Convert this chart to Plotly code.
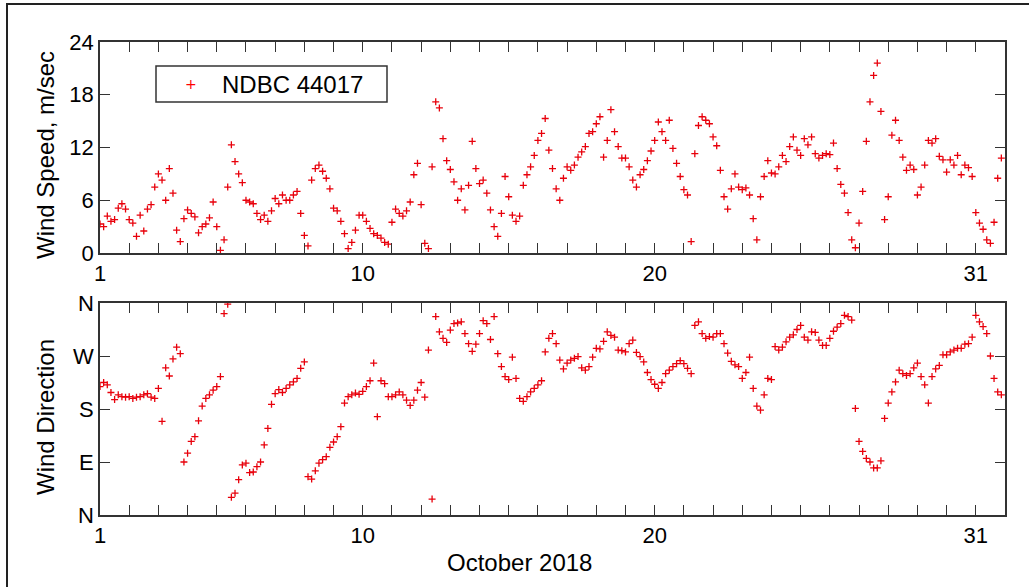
import numpy as np
import plotly.graph_objects as go

# ---- data: NDBC 44017, October 2018, 3-hourly readings (8 per day) ----
START_DAY = 1.0
STEP_DAYS = 0.125

wind_speed = [
    3.3, 3.0, 4.2, 3.6, 3.8, 5.1, 5.6, 5.0,
    3.8, 3.4, 1.9, 4.3, 2.5, 5.0, 5.5, 7.5,
    9.0, 8.3, 6.0, 9.6, 6.8, 2.6, 1.3, 3.9,
    4.9, 4.5, 4.1, 2.3, 3.0, 3.3, 4.0, 5.8,
    3.0, 0.3, 1.5, 7.5, 12.3, 10.4, 9.0, 8.0,
    6.0, 5.8, 5.6, 4.5, 3.8, 4.3, 3.6, 4.8,
    6.2, 5.6, 6.6, 6.0, 6.0, 6.6, 7.0, 4.5,
    2.0, 0.8, 8.3, 9.6, 10.0, 9.3, 8.5, 7.3,
    5.1, 4.8, 3.6, 2.2, 0.5, 1.2, 2.6, 4.3,
    4.3, 3.6, 2.8, 2.2, 2.0, 1.7, 1.2, 1.0,
    3.5, 5.0, 4.5, 4.2, 4.8, 5.8, 8.9, 10.2,
    5.5, 1.1, 0.5, 9.8, 17.2, 16.5, 13.0, 10.5,
    9.5, 8.1, 6.0, 7.3, 4.9, 7.7, 12.7, 9.6,
    7.9, 8.3, 6.8, 4.9, 3.0, 1.9, 4.5, 8.7,
    6.4, 4.3, 3.6, 4.2, 7.7, 8.9, 9.8, 11.1,
    12.8, 13.6, 15.3, 11.7, 9.6, 7.3, 6.0, 8.5,
    9.8, 9.4, 10.0, 10.9, 11.5, 12.1, 13.6, 13.8,
    14.7, 15.5, 10.9, 12.8, 16.3, 13.8, 12.1, 10.8,
    10.8, 9.8, 8.3, 7.5, 8.9, 9.5, 10.5, 11.6,
    12.8, 14.9, 13.8, 12.8, 15.1, 11.9, 10.2, 8.7,
    7.2, 6.6, 1.3, 11.3, 14.5, 15.5, 15.1, 14.7,
    13.2, 12.2, 9.4, 6.4, 5.0, 7.3, 9.0, 7.5,
    7.2, 7.4, 6.6, 3.9, 1.5, 6.4, 8.7, 10.5,
    9.1, 9.0, 9.8, 11.1, 10.4, 12.1, 13.2, 11.7,
    11.1, 13.0, 12.3, 13.2, 11.3, 10.8, 11.1, 11.3,
    11.2, 12.5, 9.6, 7.8, 6.8, 4.6, 1.5, 0.6,
    3.4, 7.0, 12.7, 17.2, 20.2, 21.6, 16.1, 3.8,
    6.4, 13.4, 15.1, 12.8, 10.9, 9.4, 10.0, 9.5,
    6.6, 7.5, 10.0, 12.8, 12.5, 13.0, 11.0, 10.6,
    9.2, 10.6, 10.0, 11.1, 8.9, 10.0, 9.7, 8.7,
    4.6, 3.4, 2.7, 1.5, 1.1, 3.5, 8.5, 10.8,
]

wind_dir = [
    218, 225, 221, 208, 196, 204, 201, 200,
    201, 198, 200, 201, 204, 206, 200, 198,
    215, 159, 250, 236, 265, 285, 274, 90,
    105, 125, 133, 160, 185, 198, 204, 212,
    218, 235, 342, 358, 30, 37, 60, 85,
    88, 72, 73, 82, 90, 119, 147, 188,
    206, 213, 208, 215, 221, 226, 232, 249,
    260, 65, 61, 75, 88, 94, 99, 115,
    124, 133, 150, 190, 201, 204, 207, 205,
    210, 218, 228, 258, 167, 228, 223, 201,
    201, 204, 209, 204, 195, 186, 195, 212,
    225, 200, 280, 27, 337, 311, 300, 293,
    314, 325, 326, 328, 308, 291, 278, 290,
    308, 330, 325, 298, 337, 274, 252, 235,
    230, 268, 232, 198, 193, 201, 209, 215,
    221, 228, 277, 300, 308, 291, 263, 248,
    258, 263, 266, 269, 250, 246, 252, 268,
    283, 282, 295, 311, 305, 302, 280, 279,
    277, 291, 297, 276, 269, 260, 242, 230,
    222, 215, 225, 240, 246, 252, 257, 262,
    257, 249, 240, 322, 328, 308, 300, 303,
    302, 308, 308, 291, 275, 261, 255, 252,
    232, 242, 268, 215, 185, 178, 204, 232,
    230, 286, 280, 285, 294, 302, 306, 315,
    322, 302, 297, 311, 310, 297, 288, 288,
    300, 312, 319, 325, 339, 337, 331, 181,
    125, 108, 96, 90, 80, 80, 92, 164,
    190, 209, 226, 246, 240, 237, 240, 250,
    258, 235, 221, 190, 235, 248, 254, 272,
    272, 277, 280, 283, 283, 290, 291, 302,
    339, 328, 320, 308, 270, 232, 209, 204,
]

series_name = "NDBC 44017"
day_ticks = list(range(1, 33))
day_labels_shown = {1: "1", 10: "10", 20: "20", 31: "31"}
speed_ticks = [0, 6, 12, 18, 24]
dir_ticks = [0, 90, 180, 270, 360]
dir_labels = ["N", "E", "S", "W", "N"]

days = START_DAY + STEP_DAYS * np.arange(len(wind_speed))

# ---- styling ----
FONT = "Liberation Sans, Arial, sans-serif"
FS_TICK = 22
FS_TITLE = 24
AX = "#333333"
RED = "#e8000b"

W, H = 1029, 587
ML, MR, MT, MB = 100, 24, 42, 72
ph = H - MT - MB

marker = dict(symbol="cross-thin", size=5, line=dict(color=RED, width=1.3), color=RED)

fig = go.Figure()
fig.add_trace(go.Scatter(x=days, y=wind_speed, mode="markers", name=series_name,
                         marker=marker, xaxis="x", yaxis="y", showlegend=False))
fig.add_trace(go.Scatter(x=days, y=wind_dir, mode="markers", name=series_name,
                         marker=marker, xaxis="x2", yaxis="y2", showlegend=False))

tick_text = [day_labels_shown.get(d, "") for d in day_ticks]
xcommon = dict(range=[1, 32], tickmode="array", tickvals=day_ticks, ticktext=tick_text,
               ticks="inside", ticklen=10, tickwidth=1.3, tickcolor=AX,
               showline=True, linecolor=AX, linewidth=1.6, mirror="ticks",
               showgrid=False, zeroline=False,
               tickfont=dict(family=FONT, size=FS_TICK, color="black"))
ycommon = dict(ticks="inside", ticklen=10, tickwidth=1.3, tickcolor=AX,
               showline=True, linecolor=AX, linewidth=1.6, mirror="ticks",
               showgrid=False, zeroline=False,
               tickfont=dict(family=FONT, size=FS_TICK, color="black"))

top_dom = [(H - MB - 253) / ph, 1.0]
bot_dom = [0.0, (H - MB - 303) / ph]

fig.update_layout(
    width=W, height=H,
    margin=dict(l=ML, r=MR, t=MT, b=MB),
    paper_bgcolor="white", plot_bgcolor="white",
    font=dict(family=FONT, size=FS_TICK, color="black"),
    xaxis=dict(domain=[0, 1], anchor="y", **xcommon),
    yaxis=dict(domain=top_dom, anchor="x", range=[0, 24], tickmode="array",
               tickvals=speed_ticks, **ycommon),
    xaxis2=dict(domain=[0, 1], anchor="y2", **xcommon),
    yaxis2=dict(domain=bot_dom, anchor="x2", range=[0, 360], tickmode="array",
                tickvals=dir_ticks, ticktext=dir_labels, **ycommon),
    showlegend=False,
)

def px2paper_x(px):
    return (px - ML) / (W - ML - MR)

def px2paper_y(py):
    return (H - MB - py) / ph

fig.add_annotation(text="Wind Speed, m/sec", textangle=-90, showarrow=False,
                   xref="paper", yref="paper", x=px2paper_x(45), y=px2paper_y(155),
                   xanchor="center", yanchor="middle", font=dict(family=FONT, size=FS_TITLE))
fig.add_annotation(text="Wind Direction", textangle=-90, showarrow=False,
                   xref="paper", yref="paper", x=px2paper_x(45), y=px2paper_y(417),
                   xanchor="center", yanchor="middle", font=dict(family=FONT, size=FS_TITLE))
fig.add_annotation(text="October 2018", showarrow=False,
                   xref="paper", yref="paper", x=px2paper_x(519), y=px2paper_y(562),
                   xanchor="center", yanchor="middle", font=dict(family=FONT, size=FS_TITLE))

# legend box (drawn as a key: frame, red '+' symbol and series name)
fig.add_shape(type="rect", xref="paper", yref="paper",
              x0=px2paper_x(156), x1=px2paper_x(387), y0=px2paper_y(102), y1=px2paper_y(66),
              line=dict(color=AX, width=1.5), fillcolor="white", layer="above")
fig.add_annotation(text="+", showarrow=False, xref="paper", yref="paper",
                   x=px2paper_x(191), y=px2paper_y(84), xanchor="center", yanchor="middle",
                   font=dict(family="DejaVu Sans, sans-serif", size=14, color="#ff0000"))
fig.add_annotation(text=series_name, showarrow=False, xref="paper", yref="paper",
                   x=px2paper_x(220), y=px2paper_y(84), xanchor="left", yanchor="middle",
                   font=dict(family=FONT, size=FS_TITLE, color="black"))

# outer frame of the figure (top and left edges visible)
fig.add_shape(type="rect", xref="paper", yref="paper",
              x0=px2paper_x(7), x1=px2paper_x(1040), y0=px2paper_y(600), y1=px2paper_y(4),
              line=dict(color="#222", width=2), fillcolor="rgba(0,0,0,0)", layer="below")

fig.write_html("out.html")
